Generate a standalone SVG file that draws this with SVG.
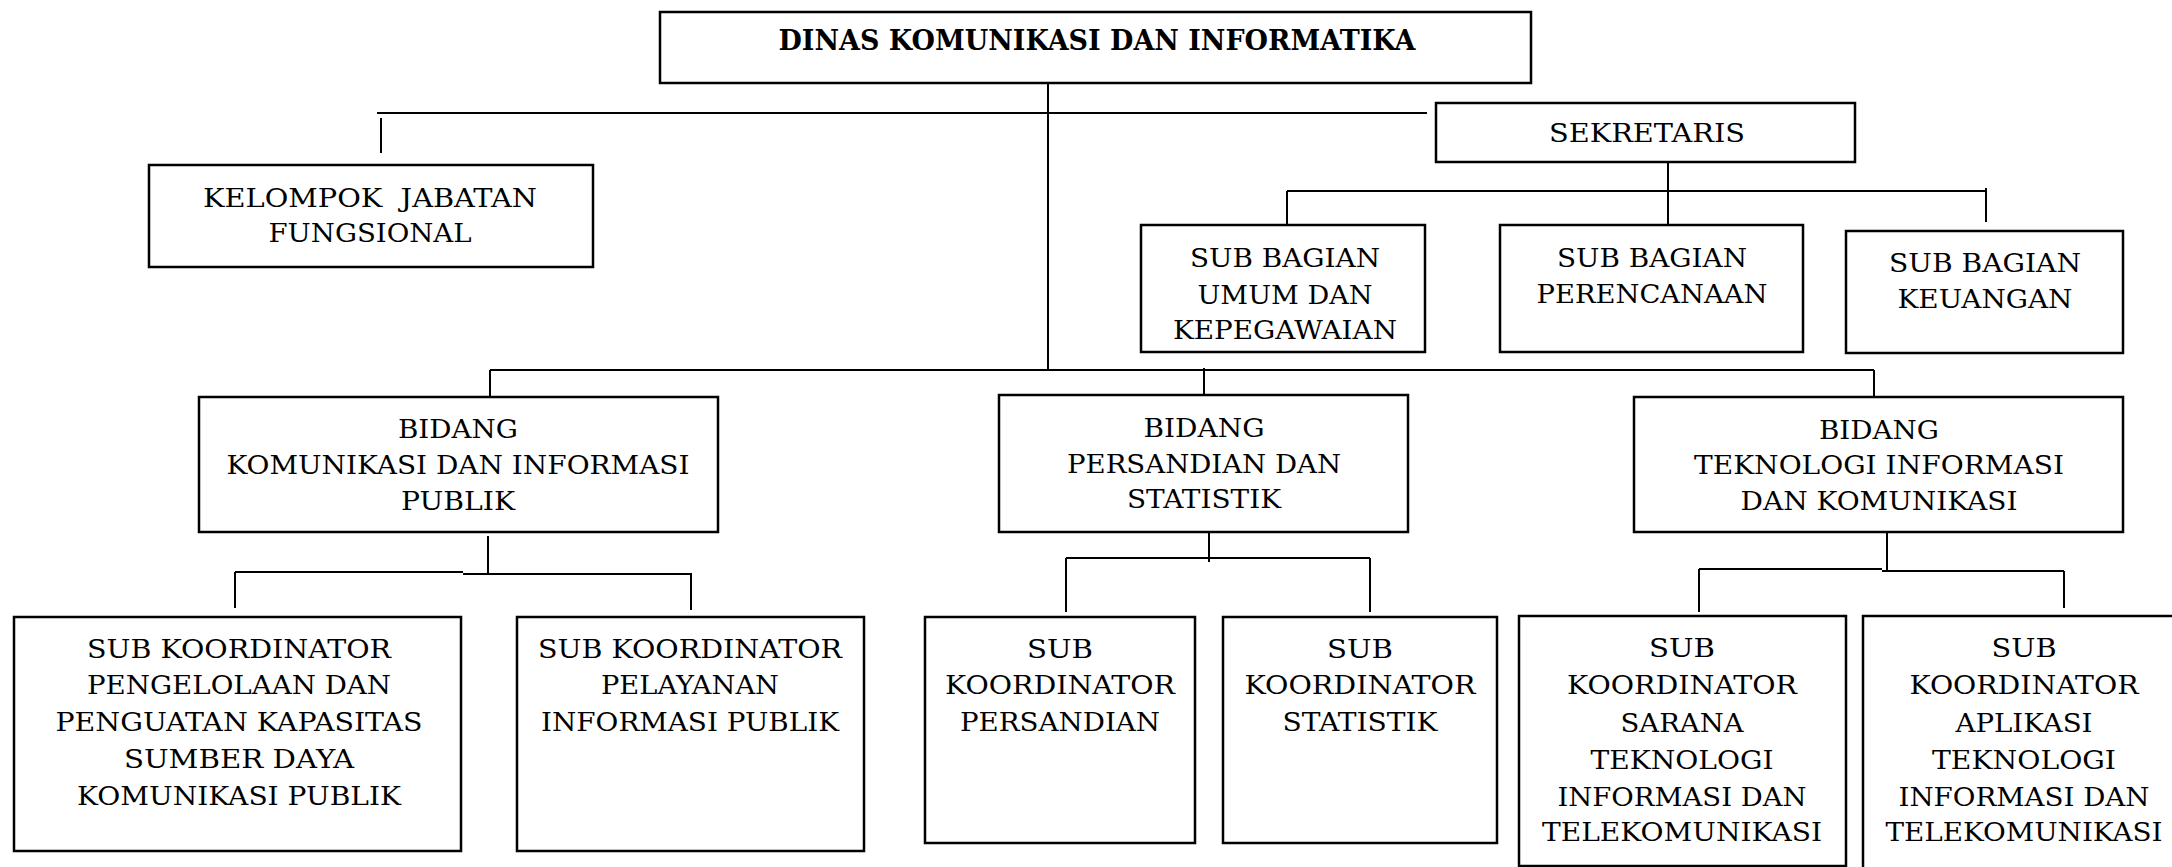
<svg xmlns="http://www.w3.org/2000/svg" width="2172" height="867" viewBox="0 0 2172 867">
<style>
.box{fill:#fff;stroke:#000;stroke-width:2.5}
.ln{fill:none;stroke:#000;stroke-width:2}
.t{font-family:"DejaVu Serif","Liberation Serif",serif;font-size:26px;fill:#000;text-anchor:middle}
.tb{font-family:"DejaVu Serif","Liberation Serif",serif;font-size:27px;font-weight:bold;fill:#000;text-anchor:middle}
</style>
<rect width="2172" height="867" fill="#fff"/>
<g id="connectors">
<rect x="1040" y="79" width="8" height="4" class="ln" stroke-width="1.5"/>
<line x1="1048" y1="82" x2="1048" y2="371" class="ln"/>
<line x1="377" y1="113" x2="1427" y2="113" class="ln" stroke="#333"/>
<line x1="381" y1="118" x2="381" y2="153" class="ln"/>
<line x1="1668" y1="152" x2="1668" y2="224" class="ln"/>
<line x1="1287" y1="191" x2="1986" y2="191" class="ln"/>
<line x1="1287" y1="191" x2="1287" y2="225" class="ln"/>
<line x1="1986" y1="188" x2="1986" y2="222" class="ln"/>
<line x1="490" y1="370" x2="1874" y2="370" class="ln"/>
<line x1="490" y1="370" x2="490" y2="397" class="ln"/>
<line x1="1204" y1="368" x2="1204" y2="403" class="ln"/>
<line x1="1874" y1="370" x2="1874" y2="397" class="ln"/>
<line x1="488" y1="536" x2="488" y2="573" class="ln"/>
<line x1="235" y1="572" x2="463" y2="572" class="ln"/>
<line x1="463" y1="574" x2="691" y2="574" class="ln"/>
<line x1="235" y1="572" x2="235" y2="608" class="ln"/>
<line x1="691" y1="573" x2="691" y2="610" class="ln"/>
<line x1="1209" y1="523" x2="1209" y2="562" class="ln"/>
<line x1="1066" y1="558" x2="1370" y2="558" class="ln"/>
<line x1="1066" y1="558" x2="1066" y2="612" class="ln"/>
<line x1="1370" y1="558" x2="1370" y2="612" class="ln"/>
<line x1="1887" y1="532" x2="1887" y2="572" class="ln"/>
<line x1="1699" y1="569" x2="1882" y2="569" class="ln"/>
<line x1="1882" y1="571" x2="2064" y2="571" class="ln"/>
<line x1="1699" y1="569" x2="1699" y2="612" class="ln"/>
<line x1="2064" y1="571" x2="2064" y2="608" class="ln"/>
</g>
<g id="dinas">
<rect x="660" y="12" width="871" height="71" class="box"/>
<text x="1097" y="50" class="tb" textLength="637" lengthAdjust="spacingAndGlyphs">DINAS KOMUNIKASI DAN INFORMATIKA</text>
</g>
<g id="kelompok">
<rect x="149" y="165" width="444" height="102" class="box"/>
<text x="370" y="207" class="t" textLength="334" lengthAdjust="spacingAndGlyphs" xml:space="preserve">KELOMPOK  JABATAN</text>
<text x="370" y="242" class="t" textLength="203" lengthAdjust="spacingAndGlyphs">FUNGSIONAL</text>
</g>
<g id="sekretaris">
<rect x="1436" y="103" width="419" height="59" class="box"/>
<text x="1647" y="142" class="t" textLength="196" lengthAdjust="spacingAndGlyphs">SEKRETARIS</text>
</g>
<g id="subbag-umum">
<rect x="1141" y="225" width="284" height="127" class="box"/>
<text x="1285" y="267" class="t" textLength="190" lengthAdjust="spacingAndGlyphs">SUB BAGIAN</text>
<text x="1285" y="304" class="t" textLength="175" lengthAdjust="spacingAndGlyphs">UMUM DAN</text>
<text x="1285" y="339" class="t" textLength="224" lengthAdjust="spacingAndGlyphs">KEPEGAWAIAN</text>
</g>
<g id="subbag-perencanaan">
<rect x="1500" y="225" width="303" height="127" class="box"/>
<text x="1652" y="267" class="t" textLength="190" lengthAdjust="spacingAndGlyphs">SUB BAGIAN</text>
<text x="1652" y="303" class="t" textLength="231" lengthAdjust="spacingAndGlyphs">PERENCANAAN</text>
</g>
<g id="subbag-keuangan">
<rect x="1846" y="231" width="277" height="122" class="box"/>
<text x="1985" y="272" class="t" textLength="192" lengthAdjust="spacingAndGlyphs">SUB BAGIAN</text>
<text x="1985" y="308" class="t" textLength="175" lengthAdjust="spacingAndGlyphs">KEUANGAN</text>
</g>
<g id="bidang-kip">
<rect x="199" y="397" width="519" height="135" class="box"/>
<text x="458" y="438" class="t" textLength="120" lengthAdjust="spacingAndGlyphs">BIDANG</text>
<text x="458" y="474" class="t" textLength="463" lengthAdjust="spacingAndGlyphs">KOMUNIKASI DAN INFORMASI</text>
<text x="458" y="510" class="t" textLength="114" lengthAdjust="spacingAndGlyphs">PUBLIK</text>
</g>
<g id="bidang-ps">
<rect x="999" y="395" width="409" height="137" class="box"/>
<text x="1204" y="437" class="t" textLength="121" lengthAdjust="spacingAndGlyphs">BIDANG</text>
<text x="1204" y="473" class="t" textLength="274" lengthAdjust="spacingAndGlyphs">PERSANDIAN DAN</text>
<text x="1204" y="508" class="t" textLength="154" lengthAdjust="spacingAndGlyphs">STATISTIK</text>
</g>
<g id="bidang-tik">
<rect x="1634" y="397" width="489" height="135" class="box"/>
<text x="1879" y="439" class="t" textLength="120" lengthAdjust="spacingAndGlyphs">BIDANG</text>
<text x="1879" y="474" class="t" textLength="370" lengthAdjust="spacingAndGlyphs">TEKNOLOGI INFORMASI</text>
<text x="1879" y="510" class="t" textLength="277" lengthAdjust="spacingAndGlyphs">DAN KOMUNIKASI</text>
</g>
<g id="subkoor-pengelolaan">
<rect x="14" y="617" width="447" height="234" class="box"/>
<text x="239" y="658" class="t" textLength="304" lengthAdjust="spacingAndGlyphs">SUB KOORDINATOR</text>
<text x="239" y="694" class="t" textLength="304" lengthAdjust="spacingAndGlyphs">PENGELOLAAN DAN</text>
<text x="239" y="731" class="t" textLength="367" lengthAdjust="spacingAndGlyphs">PENGUATAN KAPASITAS</text>
<text x="239" y="768" class="t" textLength="230" lengthAdjust="spacingAndGlyphs">SUMBER DAYA</text>
<text x="239" y="805" class="t" textLength="324" lengthAdjust="spacingAndGlyphs">KOMUNIKASI PUBLIK</text>
</g>
<g id="subkoor-pelayanan">
<rect x="517" y="617" width="347" height="234" class="box"/>
<text x="690" y="658" class="t" textLength="304" lengthAdjust="spacingAndGlyphs">SUB KOORDINATOR</text>
<text x="690" y="694" class="t" textLength="178" lengthAdjust="spacingAndGlyphs">PELAYANAN</text>
<text x="690" y="731" class="t" textLength="298" lengthAdjust="spacingAndGlyphs">INFORMASI PUBLIK</text>
</g>
<g id="subkoor-persandian">
<rect x="925" y="617" width="270" height="226" class="box"/>
<text x="1060" y="658" class="t" textLength="66" lengthAdjust="spacingAndGlyphs">SUB</text>
<text x="1060" y="694" class="t" textLength="230" lengthAdjust="spacingAndGlyphs">KOORDINATOR</text>
<text x="1060" y="731" class="t" textLength="200" lengthAdjust="spacingAndGlyphs">PERSANDIAN</text>
</g>
<g id="subkoor-statistik">
<rect x="1223" y="617" width="274" height="226" class="box"/>
<text x="1360" y="658" class="t" textLength="66" lengthAdjust="spacingAndGlyphs">SUB</text>
<text x="1360" y="694" class="t" textLength="231" lengthAdjust="spacingAndGlyphs">KOORDINATOR</text>
<text x="1360" y="731" class="t" textLength="155" lengthAdjust="spacingAndGlyphs">STATISTIK</text>
</g>
<g id="subkoor-sarana">
<rect x="1519" y="616" width="327" height="250" class="box"/>
<text x="1682" y="657" class="t" textLength="66" lengthAdjust="spacingAndGlyphs">SUB</text>
<text x="1682" y="694" class="t" textLength="230" lengthAdjust="spacingAndGlyphs">KOORDINATOR</text>
<text x="1682" y="732" class="t" textLength="123" lengthAdjust="spacingAndGlyphs">SARANA</text>
<text x="1682" y="769" class="t" textLength="183" lengthAdjust="spacingAndGlyphs">TEKNOLOGI</text>
<text x="1682" y="806" class="t" textLength="249" lengthAdjust="spacingAndGlyphs">INFORMASI DAN</text>
<text x="1682" y="841" class="t" textLength="280" lengthAdjust="spacingAndGlyphs">TELEKOMUNIKASI</text>
</g>
<g id="subkoor-aplikasi">
<rect x="1863" y="616" width="330" height="270" class="box"/>
<text x="2024" y="657" class="t" textLength="65" lengthAdjust="spacingAndGlyphs">SUB</text>
<text x="2024" y="694" class="t" textLength="229" lengthAdjust="spacingAndGlyphs">KOORDINATOR</text>
<text x="2024" y="732" class="t" textLength="137" lengthAdjust="spacingAndGlyphs">APLIKASI</text>
<text x="2024" y="769" class="t" textLength="184" lengthAdjust="spacingAndGlyphs">TEKNOLOGI</text>
<text x="2024" y="806" class="t" textLength="251" lengthAdjust="spacingAndGlyphs">INFORMASI DAN</text>
<text x="2024" y="841" class="t" textLength="277" lengthAdjust="spacingAndGlyphs">TELEKOMUNIKASI</text>
</g>
</svg>
